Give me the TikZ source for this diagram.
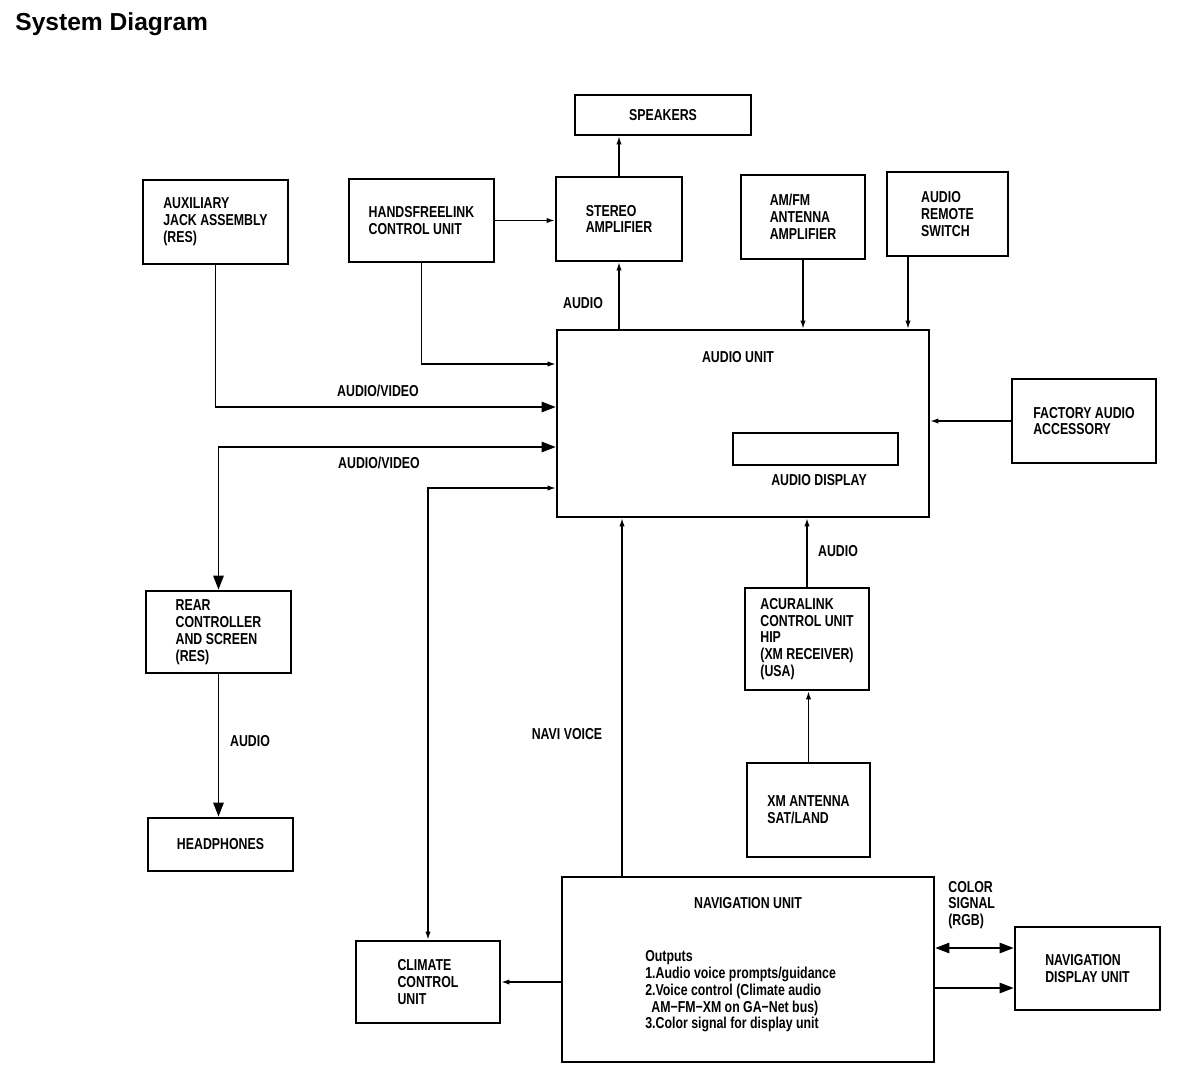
\documentclass[tikz,border=0pt]{standalone}
\usepackage{fontspec}
\setmainfont{Liberation Sans}[FakeStretch=0.78]
\newfontfamily\titlefont{Liberation Sans}
\usetikzlibrary{arrows.meta,calc}

\begin{document}
\begin{tikzpicture}[x=0.02cm, y=-0.02cm,
	every node/.style={font=\bfseries\fontsize{9}{9.6}\selectfont},
	unit/.style={draw, line width=1.6pt, align=left, inner sep=0pt},
	link/.style={line width=0.7pt},
	sm/.style={-{Latex[length=4.5pt,width=3pt]}},
	big/.style={-{Triangle[length=8pt,width=6pt]}},
	bigboth/.style={{Triangle[length=8pt,width=6pt]}-{Triangle[length=8pt,width=6pt]}},
	smboth/.style={{Latex[length=4.5pt,width=3pt]}-{Latex[length=4.5pt,width=3pt]}}]
	
	\useasboundingbox (0,0) rectangle (1200,1086);
	
	\node[anchor=west, inner sep=0pt, font=\titlefont\bfseries\fontsize{14}{16}\selectfont] (title) at (15,24) {System Diagram};
	
	% top row
	\node[unit, minimum width=3.52cm, minimum height=0.8cm] (speakers) at (663,115) {SPEAKERS};
	\node[unit, minimum width=2.52cm, minimum height=1.68cm] (stereo) at (619,219) {STEREO\\AMPLIFIER};
	\node[unit, minimum width=2.9cm, minimum height=1.66cm] (hfl) at (421.5,220.5) {HANDSFREELINK\\CONTROL UNIT};
	\node[unit, minimum width=2.9cm, minimum height=1.68cm] (aux) at (215.5,222) {AUXILIARY\\JACK ASSEMBLY\\(RES)};
	\node[unit, minimum width=2.48cm, minimum height=1.68cm] (amfm) at (803,217) {AM/FM\\ANTENNA\\AMPLIFIER};
	\node[unit, minimum width=2.42cm, minimum height=1.68cm] (remote) at (947.5,214) {AUDIO\\REMOTE\\SWITCH};
	
	% audio unit
	\node[unit, minimum width=7.44cm, minimum height=3.74cm] (audio) at (743,423.5) {};
	\node (audiolbl) at (738,357) {AUDIO UNIT};
	\node[draw, line width=1.2pt, minimum width=3.3cm, minimum height=0.64cm, inner sep=0pt] (display) at (815.5,449) {};
	\node (displaylbl) at (819,480) {AUDIO DISPLAY};
	\node[unit, minimum width=2.88cm, minimum height=1.68cm] (factory) at (1084,421) {FACTORY AUDIO\\ACCESSORY};
	
	% middle
	\node[unit, minimum width=2.48cm, minimum height=2.04cm] (acura) at (807,639) {ACURALINK\\CONTROL UNIT\\HIP\\(XM RECEIVER)\\(USA)};
	\node[unit, minimum width=2.46cm, minimum height=1.88cm] (xm) at (808.5,810) {XM ANTENNA\\SAT/LAND};
	\node[unit, minimum width=2.9cm, minimum height=1.64cm] (rear) at (218.5,632) {REAR\\CONTROLLER\\AND SCREEN\\(RES)};
	\node[unit, minimum width=2.9cm, minimum height=1.06cm] (head) at (220.5,844.5) {HEADPHONES};
	
	% bottom row
	\node[unit, minimum width=7.44cm, minimum height=3.7cm] (nav) at (748,969.5) {};
	\node (navlbl) at (748,903) {NAVIGATION UNIT};
	\node[anchor=north west, align=left, inner sep=0pt] (outputs) at (645,950) {Outputs\\1.Audio voice prompts/guidance\\2.Voice control (Climate audio\\\ \,AM−FM−XM on GA−Net bus)\\3.Color signal for display unit};
	\node[unit, minimum width=2.9cm, minimum height=1.66cm] (navdisp) at (1087.5,968.5) {NAVIGATION\\DISPLAY UNIT};
	\node[unit, minimum width=2.88cm, minimum height=1.64cm] (climate) at (428,982) {CLIMATE\\CONTROL\\UNIT};
	
	% labels on connectors
	\node (lblamp) at (583,303) {AUDIO};
	\node (lblav1) at (378,391) {AUDIO/VIDEO};
	\node (lblav2) at (379,463) {AUDIO/VIDEO};
	\node (lblacura) at (838,551) {AUDIO};
	\node (lblnavi) at (567,734) {NAVI VOICE};
	\node (lblhead) at (250,741) {AUDIO};
	\node[anchor=west, align=left, inner sep=0pt] (lblrgb) at (948,905) {COLOR\\SIGNAL\\(RGB)};
	
	% connector points
	\coordinate (remotein) at ($(remote.south)+(-39.5,0)$);
	\coordinate (navout) at ($(nav.north)+(-126,0)$);
	\coordinate (hflin) at ($(audio.west)+(0,-59.5)$);
	\coordinate (auxin) at ($(audio.west)+(0,-16.5)$);
	\coordinate (rearin) at ($(audio.west)+(0,23.5)$);
	\coordinate (climin) at ($(audio.west)+(0,64.5)$);
	\coordinate (climout) at ($(nav.west)+(0,12.5)$);
	\coordinate (rgbout) at ($(nav.east)+(0,-21.5)$);
	\coordinate (dispout) at ($(nav.east)+(0,18.5)$);
	
	\draw[link, sm] (stereo.north) -- (stereo.north |- speakers.south);
	\draw[link, sm] (stereo.south |- audio.north) -- (stereo.south);
	\draw[link, sm] (hfl.east) -- (hfl.east -| stereo.west);
	\draw[link, sm] (amfm.south) -- (amfm.south |- audio.north);
	\draw[link, sm] (remotein) -- (remotein |- audio.north);
	\draw[link, sm] (factory.west) -- (factory.west -| audio.east);
	\draw[link, sm] (acura.north) -- (acura.north |- audio.south);
	\draw[link, sm] (xm.north) -- (xm.north |- acura.south);
	\draw[link, sm] (navout) -- (navout |- audio.south);
	\draw[link, sm] (hfl.south) |- (hflin);
	\draw[link, big] (aux.south) |- (auxin);
	\draw[link, bigboth] (rearin) -| (rear.north);
	\draw[link, smboth] (climin) -| (climate.north);
	\draw[link, big] (rear.south) -- (rear.south |- head.north);
	\draw[link, sm] (climout) -- (climout -| climate.east);
	\draw[link, bigboth] (rgbout) -- (rgbout -| navdisp.west);
	\draw[link, big] (dispout) -- (dispout -| navdisp.west);
	
\end{tikzpicture}
\end{document}
